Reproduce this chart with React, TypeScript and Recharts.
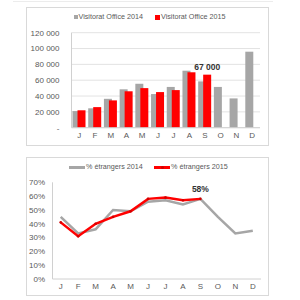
import { Bar, BarChart, CartesianGrid, LabelList, Line, LineChart, XAxis, YAxis } from "recharts";

const GREY = "#a6a6a6";
const RED = "#ff0000";
const TXT = "#595959";
const FONT = "'Liberation Sans', Arial, sans-serif";

const months = ["J", "F", "M", "A", "M", "J", "J", "A", "S", "O", "N", "D"];
const visits2014 = [21000, 24500, 36500, 48500, 55500, 42500, 51500, 72000, 58500, 51500, 37000, 96000];
const visits2015 = [22000, 26000, 34500, 46000, 50000, 45000, 47500, 70000, 67000];
const foreign2014 = [0.45, 0.33, 0.36, 0.5, 0.49, 0.56, 0.57, 0.54, 0.58, 0.45, 0.33, 0.35];
const foreign2015 = [0.41, 0.31, 0.4, 0.45, 0.49, 0.58, 0.59, 0.57, 0.58];
const barNames = ["Visitorat Office 2014", "Visitorat Office 2015"];
const lineNames = ["% étrangers 2014", "% étrangers 2015"];
const visitTicks = [0, 20000, 40000, 60000, 80000, 100000, 120000];
const pctTicks = [0, 0.1, 0.2, 0.3, 0.4, 0.5, 0.6, 0.7];

const barData = months.map((m, i) => ({ m, a: visits2014[i], b: visits2015[i] ?? null }));
const lineData = months.map((m, i) => ({ m, a: foreign2014[i], b: foreign2015[i] ?? null }));

const fmtK = (v: number) => (v === 0 ? "-" : `${Math.floor(v / 1000)} ${String(v % 1000).padStart(3, "0")}`);
const fmtPct = (v: number) => `${Math.round(v * 100)}%`;
const tick = { fontSize: 8, fill: TXT, fontFamily: FONT };

const frame = (top: number): React.CSSProperties => ({
  position: "absolute", left: 26, top, width: 241, height: 137, border: "1px solid #d9d9d9",
});

const legText: React.CSSProperties = { position: "absolute", fontSize: 7.2, color: TXT, fontFamily: FONT, lineHeight: "10px", whiteSpace: "nowrap" };

export default function App() {
  return (
    <div style={{ position: "absolute", left: 0, top: 0, width: 300, height: 300, background: "#fff", fontFamily: FONT }}>
      <div style={{ position: "absolute", left: 13, top: 1, width: 260, height: 1, background: "#ececec" }} />
      <div style={frame(7)} />
      <div style={frame(157)} />

      <div style={{ position: "absolute", left: 0, top: 0 }}>
        <BarChart width={300} height={150} data={barData} margin={{ top: 32.7, right: 40, bottom: 0, left: 0 }} barSize={8} barGap={-3}>
          <CartesianGrid vertical={false} stroke="#e3e3e3" />
          <XAxis dataKey="m" height={22.3} interval={0} tick={tick} tickLine={false} tickSize={0} tickMargin={5} stroke="#d0d0d0" />
          <YAxis width={71.5} interval={0} domain={[0, 120000]} ticks={visitTicks} tickFormatter={fmtK} tick={tick} tickLine={false} tickSize={0} tickMargin={12} stroke="#d0d0d0" />
          <Bar dataKey="a" fill={GREY} isAnimationActive={false} />
          <Bar dataKey="b" fill={RED} isAnimationActive={false}>
            <LabelList
              dataKey="b"
              content={(p: any) =>
                p.index === visits2015.length - 1 ? (
                  <text x={p.x + p.width / 2} y={p.y - 5} textAnchor="middle" fontSize={8.5} fontWeight="bold" fill="#333" fontFamily={FONT}>
                    {fmtK(p.value)}
                  </text>
                ) : null
              }
            />
          </Bar>
        </BarChart>
      </div>

      <div style={{ position: "absolute", left: 0, top: 150 }}>
        <LineChart width={300} height={150} data={lineData} margin={{ top: 32.3, right: 39, bottom: 0, left: 0 }}>
          <XAxis dataKey="m" height={21} interval={0} padding={{ left: 8.2, right: 8.2 }} tick={tick} tickLine={false} tickSize={0} tickMargin={4} stroke="#d0d0d0" />
          <YAxis width={52.5} interval={0} domain={[0, 0.7]} ticks={pctTicks} tickFormatter={fmtPct} tick={tick} tickLine={false} tickSize={0} tickMargin={7.5} stroke="#d0d0d0" />
          <Line dataKey="a" stroke={GREY} strokeWidth={2.5} dot={false} isAnimationActive={false} />
          <Line dataKey="b" stroke={RED} strokeWidth={2.5} dot={{ r: 1.3, fill: "#d00000", strokeWidth: 0 }} isAnimationActive={false}>
            <LabelList
              dataKey="b"
              content={(p: any) =>
                p.index === foreign2015.length - 1 ? (
                  <text x={p.x} y={p.y - 7} textAnchor="middle" fontSize={8.5} fontWeight="bold" fill="#333" fontFamily={FONT}>
                    {fmtPct(p.value)}
                  </text>
                ) : null
              }
            />
          </Line>
        </LineChart>
      </div>

      {/* bar legend */}
      <div style={{ position: "absolute", left: 74, top: 15, width: 4, height: 4, background: GREY }} />
      <div style={{ ...legText, left: 78.5, top: 12 }}>{barNames[0]}</div>
      <div style={{ position: "absolute", left: 155, top: 15, width: 5, height: 5, background: RED }} />
      <div style={{ ...legText, left: 161, top: 12 }}>{barNames[1]}</div>

      {/* line legend */}
      <div style={{ position: "absolute", left: 69, top: 166, width: 16, height: 2.5, background: GREY }} />
      <div style={{ ...legText, left: 86, top: 162 }}>{lineNames[0]}</div>
      <div style={{ position: "absolute", left: 154, top: 166, width: 16, height: 2.5, background: RED }} />
      <div style={{ position: "absolute", left: 160.5, top: 165.5, width: 3.5, height: 3.5, borderRadius: 2, background: "#d00000" }} />
      <div style={{ ...legText, left: 171, top: 162 }}>{lineNames[1]}</div>
    </div>
  );
}
